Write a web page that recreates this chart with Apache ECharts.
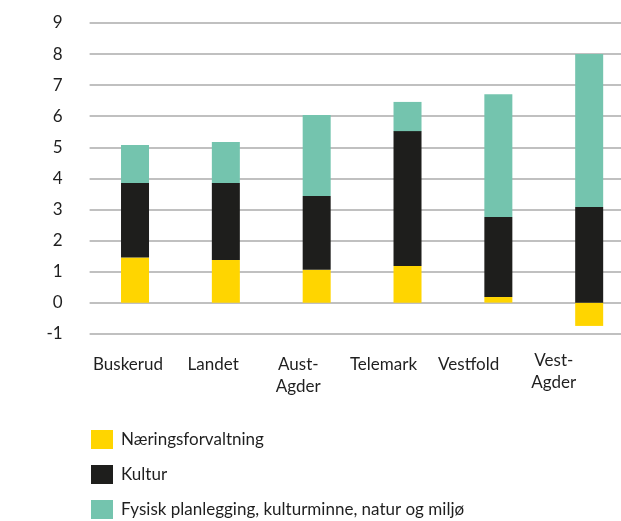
<!DOCTYPE html>
<html>
<head>
<meta charset="utf-8">
<script src="https://cdn.jsdelivr.net/npm/echarts@6/dist/echarts.min.js"></script>
<style>
  html, body { margin: 0; padding: 0; background: #fff; }
  #chart { width: 621px; height: 521px; }
</style>
</head>
<body>
<div id="chart"></div>
<script>
// Regions shown along the horizontal axis
const regions = ['Buskerud', 'Landet', 'Aust-\nAgder', 'Telemark', 'Vestfold', 'Vest-\nAgder'];

// Stacked values per region
const naering = [1.45, 1.37, 1.06, 1.18, 0.18, -0.75];
const kultur = [2.40, 2.48, 2.37, 4.34, 2.58, 3.08];
const fysisk = [1.22, 1.32, 2.61, 0.94, 3.95, 4.92];

const seriesNames = ['Næringsforvaltning', 'Kultur', 'Fysisk planlegging, kulturminne, natur og miljø'];
const seriesColors = ['#FFD500', '#1E1E1C', '#74C4AE'];

const FONT = 'Lato, "Noto Sans", sans-serif';
const TEXT = '#1f1f1f';

// The last label sits a little higher than the rest
const regionLabels = regions.map((name, i) =>
  i === regions.length - 1 ? { value: name, textStyle: { padding: [-4, 0, 0, 0] } } : name
);

const chart = echarts.init(document.getElementById('chart'), null, { renderer: 'canvas' });

chart.setOption({
  animation: false,
  backgroundColor: '#fff',
  textStyle: { fontFamily: FONT, color: TEXT },
  grid: [
    { left: 89.6, width: 545, top: 23, bottom: 187.3, outerBoundsMode: 'none' },
    { left: 85.4, width: 511, top: 23, bottom: 187.3, outerBoundsMode: 'none' }
  ],
  legend: {
    orient: 'vertical',
    left: 86,
    top: 425,
    width: 530,
    height: 100,
    itemWidth: 22,
    itemHeight: 19,
    itemGap: 16,
    icon: 'rect',
    selectedMode: false,
    textStyle: { fontFamily: FONT, fontSize: 17, color: TEXT, padding: [0, 0, 0, 3] },
    data: seriesNames
  },
  xAxis: [
    {
      type: 'category',
      gridIndex: 0,
      data: regions,
      axisLine: { show: false },
      axisTick: { show: false },
      axisLabel: { show: false }
    },
    {
      type: 'category',
      gridIndex: 1,
      data: regionLabels,
      axisLine: { show: false },
      axisTick: { show: false },
      axisLabel: {
        interval: 0,
        margin: 20,
        fontFamily: FONT,
        fontSize: 17,
        color: TEXT,
        lineHeight: 22
      }
    }
  ],
  yAxis: [
    {
      type: 'value',
      gridIndex: 0,
      min: -1,
      max: 9,
      interval: 1,
      axisLine: { show: false },
      axisTick: { show: false },
      axisLabel: {
        margin: 27,
        fontFamily: FONT,
        fontSize: 17,
        color: TEXT
      },
      splitLine: { lineStyle: { color: '#ababab', width: 1.5 } }
    },
    { type: 'value', gridIndex: 1, min: -1, max: 9, show: false }
  ],
  series: [
    { name: seriesNames[0], type: 'bar', stack: 'total', barWidth: 28, data: naering, itemStyle: { color: seriesColors[0] } },
    { name: seriesNames[1], type: 'bar', stack: 'total', barWidth: 28, data: kultur, itemStyle: { color: seriesColors[1] } },
    { name: seriesNames[2], type: 'bar', stack: 'total', barWidth: 28, data: fysisk, itemStyle: { color: seriesColors[2] } }
  ]
});
</script>
</body>
</html>
